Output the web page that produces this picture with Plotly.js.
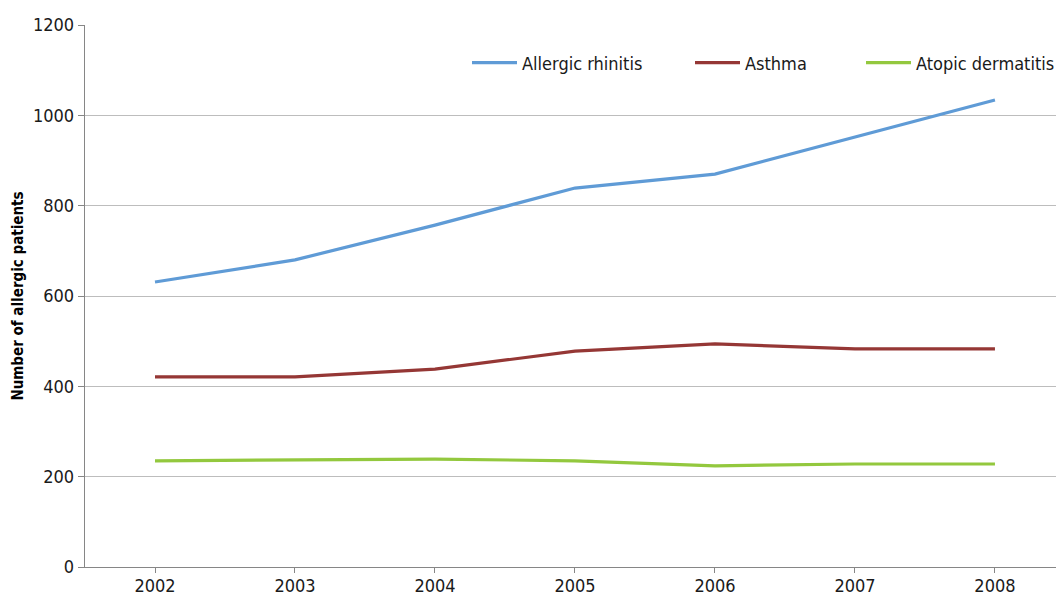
<!DOCTYPE html>
<html>
<head>
<meta charset="utf-8">
<script src="https://cdn.plot.ly/plotly-3.0.1.min.js"></script>
<style>html,body{margin:0;padding:0;background:#fff;}#chart{width:1056px;height:595px;}</style>
</head>
<body>
<div id="chart"></div>
<script>
const years = ['2002','2003','2004','2005','2006','2007','2008'];
const allergicRhinitis = [631, 680, 757, 839, 870, 952, 1034];
const asthma = [421, 421, 438, 478, 494, 483, 483];
const atopicDermatitis = [235, 237, 239, 235, 224, 228, 228];
const seriesNames = ['Allergic rhinitis', 'Asthma', 'Atopic dermatitis'];
const yTicks = [0, 200, 400, 600, 800, 1000, 1200];

const FONT = '"DejaVu Sans Condensed", "Liberation Sans Narrow", sans-serif';
const colors = ['#5f9bd6', '#953735', '#93c83e'];
const legendIds = ['legend', 'legend2', 'legend3'];
const data = [allergicRhinitis, asthma, atopicDermatitis].map((vals, i) => ({
  type: 'scatter', mode: 'lines', x: years, y: vals, name: seriesNames[i],
  legend: legendIds[i],
  line: {color: colors[i], width: 3.2}
}));

function px2x(px) { return (px - 85) / 971; }
function legendAt(px) {
  return {orientation: 'h', x: px2x(px), xanchor: 'left', y: 0.93, yanchor: 'middle',
          font: {family: FONT, size: 18, color: '#1a1a1a'},
          bgcolor: 'rgba(0,0,0,0)', itemwidth: 45, borderwidth: 0};
}

const layout = {
  width: 1056, height: 595,
  margin: {l: 85, r: 0, t: 25, b: 28, pad: 0, autoexpand: false},
  paper_bgcolor: '#fff', plot_bgcolor: '#fff',
  font: {family: FONT, size: 18, color: '#1a1a1a'},
  showlegend: true,
  legend: legendAt(467),
  legend2: legendAt(690),
  legend3: legendAt(861),
  xaxis: {type: 'category', range: [-0.5, 6.436], showgrid: false, zeroline: false,
          showline: true, linecolor: '#868686', linewidth: 1.3,
          ticks: 'outside', ticklen: 5, tickcolor: '#868686', tickwidth: 1,
          ticklabelstandoff: -3,
          tickfont: {family: FONT, size: 18, color: '#1a1a1a'}, fixedrange: true},
  yaxis: {range: [0, 1200], tickvals: yTicks, ticktext: yTicks.map(String),
          showgrid: true, gridcolor: '#bdbdbd', gridwidth: 1, zeroline: false,
          showline: true, linecolor: '#868686', linewidth: 1.3,
          ticks: 'outside', ticklen: 6, tickcolor: '#868686', tickwidth: 1,
          tickfont: {family: FONT, size: 18, color: '#1a1a1a'},
          title: {text: '<b>Number of allergic patients</b>', font: {family: FONT, size: 15, color: '#000'}, standoff: 5},
          fixedrange: true}
};
Plotly.newPlot('chart', data, layout, {displayModeBar: false, staticPlot: true});
</script>
</body>
</html>
